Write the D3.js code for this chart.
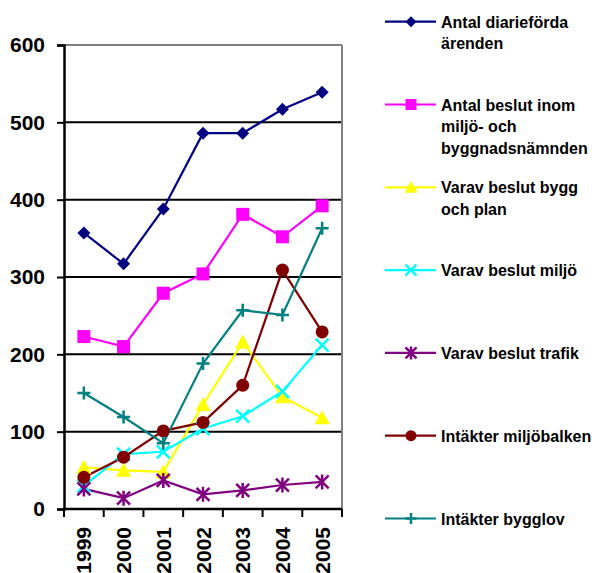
<!DOCTYPE html>
<html><head><meta charset="utf-8">
<script src="https://cdn.jsdelivr.net/npm/d3@7"></script>
<style>
html,body{margin:0;padding:0;background:#fff;overflow:hidden}
text{font-family:"Liberation Sans",Arial,sans-serif;font-weight:bold;fill:#000}
</style></head>
<body><svg id="c" width="592" height="573"></svg>
<script>
const years = ["1999","2000","2001","2002","2003","2004","2005"];
const yTicks = [0,100,200,300,400,500,600];
const seriesNames = [
  ["Antal diarieförda","ärenden"],
  ["Antal beslut inom","miljö- och","byggnadsnämnden"],
  ["Varav beslut bygg","och plan"],
  ["Varav beslut miljö"],
  ["Varav beslut trafik"],
  ["Intäkter miljöbalken"],
  ["Intäkter bygglov"]
];
const diarieforda = [357,317,388,486,486,517,539];
const beslut      = [223,210,279,304,381,352,392];
const byggPlan    = [54,50,48,135,216,145,118];
const miljo       = [30,71,74,104,120,152,212];
const trafik      = [26,14,37,19,24,31,35];
const miljobalken = [41,67,101,112,160,309,229];
const bygglov     = [150,119,85,188,257,251,363];
const colors  = ["#000080","#FF00FF","#FFFF00","#00FFFF","#800080","#800000","#008080"];
const markers = ["diamond","square","triangle","x","star","circle","plus"];
const allValues = [diarieforda,beslut,byggPlan,miljo,trafik,miljobalken,bygglov];

const svg = d3.select("#c");
const L = 64, R = 342, T = 45, B = 509;
const x = d3.scaleBand().domain(years).range([L,R]).padding(0);
const y = d3.scaleLinear().domain([0,600]).range([B,T]);

// gridlines
svg.append("g").selectAll("line").data(yTicks.filter(d=>d>0 && d<600)).join("line")
  .attr("x1",L).attr("x2",R).attr("y1",d=>y(d)).attr("y2",d=>y(d))
  .attr("stroke","#000").attr("stroke-width",2);
// plot border top/right gray
svg.append("line").attr("x1",L).attr("x2",R).attr("y1",y(600)).attr("y2",y(600)).attr("stroke","#808080").attr("stroke-width",2);
svg.append("line").attr("x1",R).attr("x2",R).attr("y1",T).attr("y2",B).attr("stroke","#808080").attr("stroke-width",2);

// y axis
const ya = svg.append("g").attr("transform",`translate(${L},0)`)
  .call(d3.axisLeft(y).tickValues(yTicks).tickSize(7).tickPadding(12));
ya.select(".domain").attr("stroke","#000").attr("stroke-width",2.5);
ya.selectAll(".tick line").attr("stroke","#000").attr("stroke-width",2);
ya.selectAll(".tick text").attr("font-size",21).attr("font-family","Liberation Sans, Arial").attr("font-weight","bold").attr("fill","#000");

// x axis
const xa = svg.append("g").attr("transform",`translate(0,${B})`)
  .call(d3.axisBottom(x).tickSize(0).tickPadding(0));
xa.select(".domain").attr("stroke","#000").attr("stroke-width",2.5).attr("d",`M${L},0H${R}`);
xa.selectAll(".tick text").attr("font-size",21).attr("font-family","Liberation Sans, Arial").attr("font-weight","bold").attr("fill","#000")
  .attr("transform","rotate(-90)").attr("text-anchor","end").attr("x",-18).attr("y",0).attr("dy","0.36em");
const edges = years.map(d=>x(d)).concat([x(years[years.length-1])+x.bandwidth()]);
svg.append("g").selectAll("line").data(edges).join("line")
  .attr("x1",d=>d).attr("x2",d=>d).attr("y1",B).attr("y2",B+8).attr("stroke","#000").attr("stroke-width",2);

function drawMarker(g, type, color, s){
  if(type==="diamond"){
    g.append("path").attr("d",`M0,${-s}L${s},0L0,${s}L${-s},0Z`).attr("fill",color);
  } else if(type==="square"){
    g.append("rect").attr("x",-s).attr("y",-s).attr("width",2*s).attr("height",2*s).attr("fill",color);
  } else if(type==="triangle"){
    g.append("path").attr("d",`M0,${-s-1}L${s+1},${s}L${-s-1},${s}Z`).attr("fill",color);
  } else if(type==="circle"){
    g.append("circle").attr("r",s).attr("fill",color);
  } else if(type==="x"){
    g.append("path").attr("d",`M${-s},${-s}L${s},${s}M${-s},${s}L${s},${-s}`).attr("stroke",color).attr("stroke-width",2.5);
  } else if(type==="plus"){
    g.append("path").attr("d",`M${-s},0L${s},0M0,${-s}L0,${s}`).attr("stroke",color).attr("stroke-width",2.5);
  } else if(type==="star"){
    g.append("path").attr("d",`M${-s},${-s}L${s},${s}M${-s},${s}L${s},${-s}M0,${-s-1}L0,${s+1}`).attr("stroke",color).attr("stroke-width",2.5);
  }
}

const line = d3.line().x((d,i)=>x(years[i])+x.bandwidth()/2).y(d=>y(d));
allValues.forEach((vals,k)=>{
  svg.append("path").datum(vals).attr("d",line).attr("fill","none")
    .attr("stroke",colors[k]).attr("stroke-width",2.2);
});
allValues.forEach((vals,k)=>{
  vals.forEach((v,i)=>{
    const g = svg.append("g").attr("transform",`translate(${x(years[i])+x.bandwidth()/2},${y(v)})`);
    drawMarker(g, markers[k], colors[k], 6.5);
  });
});

// legend
const ly = d3.scaleLinear().domain([0,6]).range([21.7,518.5]);
seriesNames.forEach((lines,k)=>{
  const g = svg.append("g").attr("transform",`translate(0,${ly(k)})`);
  g.append("line").attr("x1",385).attr("x2",436).attr("y1",0).attr("y2",0).attr("stroke",colors[k]).attr("stroke-width",2.2);
  const m = g.append("g").attr("transform","translate(411,0)");
  drawMarker(m, markers[k], colors[k], 5.5);
  const t = g.append("text").attr("x",441).attr("y",6).attr("font-size",16);
  lines.forEach((s,j)=>{
    t.append("tspan").attr("x",441).attr("dy", j===0?0:21.5).text(s);
  });
});
</script></body></html>
